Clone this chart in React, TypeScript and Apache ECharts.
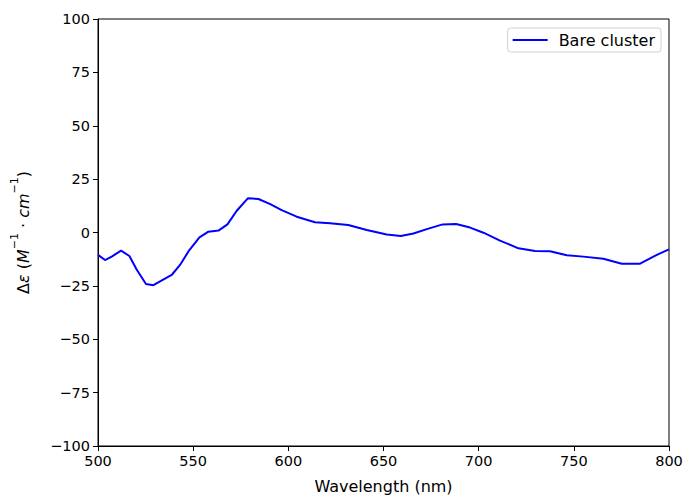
import React, { useEffect, useRef } from "react";
import * as echarts from "echarts";

const wavelengths = [500, 503.7, 507.2, 512.1, 516.5, 520.3, 525.2, 529.1, 538.7, 543.1, 548, 553.3, 558, 563.3, 568, 572.9, 578.7, 584.3, 590.5, 596.5, 604.4, 614, 621.9, 631.5, 641.2, 651.7, 659.1, 665.7, 673.6, 681.1, 688.1, 695.5, 702.5, 711.2, 720.9, 729.6, 737.5, 746.3, 755, 765.5, 775.2, 784.8, 793.6, 800];
const deltaEps = [-10.5, -12.9, -11.3, -8.5, -11, -17.3, -24.1, -24.7, -19.9, -15.2, -8.2, -2.3, 0.4, 0.9, 3.8, 10.2, 16, 15.7, 13.3, 10.5, 7.4, 4.8, 4.3, 3.5, 1.2, -0.9, -1.6, -0.5, 1.8, 3.8, 4, 2.3, -0.1, -3.8, -7.4, -8.7, -8.8, -10.7, -11.3, -12.3, -14.6, -14.6, -10.5, -7.9];
const seriesName = "Bare cluster";
const xTicks = { min: 500, max: 800, interval: 50 };
const yTicks = { min: -100, max: 100, interval: 25 };

const FONT = "DejaVu Sans";
const TICK_FS = 14.5;
const LABEL_FS = 16;
const fmt = (v: number) => (v < 0 ? "\u2212" + Math.abs(v) : String(v));

export default function App() {
  const ref = useRef<HTMLDivElement>(null);
  useEffect(() => {
    document.body.style.margin = "0";
    const chart = echarts.init(ref.current!, undefined, { renderer: "svg" });
    chart.setOption({
      animation: false,
      textStyle: { fontFamily: FONT },
      grid: {
        left: 98,
        right: 18,
        top: 19,
        bottom: 54,
        show: true,
        borderColor: "#000",
        borderWidth: 1,
        backgroundColor: "transparent",
      },
      legend: {
        right: 26,
        top: 28,
        orient: "vertical",
        backgroundColor: "#fff",
        borderColor: "#d0d0d0",
        borderWidth: 1,
        borderRadius: 3,
        padding: [4, 6, 4, 5],
        icon: "rect",
        itemWidth: 35,
        itemHeight: 2,
        itemGap: 10,
        textStyle: { fontFamily: FONT, fontSize: LABEL_FS, color: "#000", padding: [0, 0, 0, 6] },
        data: [seriesName],
      },
      xAxis: {
        type: "value",
        min: xTicks.min,
        max: xTicks.max,
        interval: xTicks.interval,
        name: "Wavelength (nm)",
        nameLocation: "middle",
        nameGap: 32,
        nameTextStyle: { fontFamily: FONT, fontSize: LABEL_FS, color: "#000" },
        axisLine: { show: true, onZero: false, lineStyle: { color: "#000", width: 1 } },
        axisTick: { show: true, length: 5, lineStyle: { color: "#000" } },
        axisLabel: { color: "#000", fontFamily: FONT, fontSize: TICK_FS, margin: 7, formatter: fmt },
        splitLine: { show: false },
      },
      yAxis: {
        type: "value",
        min: yTicks.min,
        max: yTicks.max,
        interval: yTicks.interval,
        name: "{n|\u0394}{i|\u03b5}{n| (}{i|M}{s|\u22121}{n| \u00b7 }{i|cm}{s|\u22121}{n|)}",
        nameLocation: "middle",
        nameGap: 67,
        nameRotate: 90,
        nameTextStyle: {
          fontFamily: FONT,
          fontSize: LABEL_FS,
          color: "#000",
          rich: {
            n: { fontFamily: FONT, fontSize: LABEL_FS, color: "#000", lineHeight: 22, verticalAlign: "bottom" },
            i: { fontFamily: FONT, fontSize: LABEL_FS, color: "#000", fontStyle: "italic", lineHeight: 22, verticalAlign: "bottom" },
            s: { fontFamily: FONT, fontSize: 11, color: "#000", lineHeight: 22, verticalAlign: "top" },
          },
        },
        axisLine: { show: true, onZero: false, lineStyle: { color: "#000", width: 1 } },
        axisTick: { show: true, length: 5, lineStyle: { color: "#000" } },
        axisLabel: { color: "#000", fontFamily: FONT, fontSize: TICK_FS, margin: 8, formatter: fmt },
        splitLine: { show: false },
      },
      series: [
        {
          name: seriesName,
          type: "line",
          data: wavelengths.map((w, i) => [w, deltaEps[i]]),
          symbol: "none",
          lineStyle: { color: "#0000ff", width: 2 },
          itemStyle: { color: "#0000ff" },
        },
      ],
    });
    return () => chart.dispose();
  }, []);
  return <div ref={ref} style={{ width: 687, height: 500 }} />;
}
